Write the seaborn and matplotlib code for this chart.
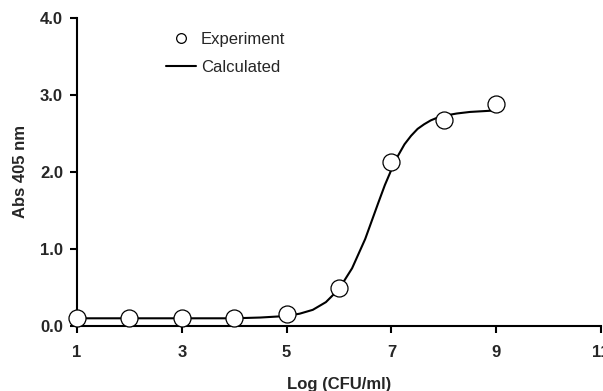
import matplotlib
matplotlib.use("Agg")
import matplotlib.pyplot as plt
import seaborn as sns
import pandas as pd
from matplotlib.lines import Line2D

# Experimental data
exp_x = [1, 2, 3, 4, 5, 6, 7, 8, 9]
exp_y = [0.10, 0.10, 0.10, 0.10, 0.15, 0.50, 2.13, 2.67, 2.88]

# Calculated curve, values
calc_x = [1, 2, 3, 4, 4.5, 5, 5.25, 5.5, 5.75, 6, 6.25, 6.5, 6.75, 6.875, 7,
          7.125, 7.25, 7.375, 7.5, 7.625, 7.75, 7.875, 8, 8.25, 8.5, 8.75, 9]
calc_y = [0.10, 0.10, 0.10, 0.10, 0.11, 0.13, 0.16, 0.21, 0.31, 0.48, 0.75, 1.13,
          1.60, 1.83, 2.03, 2.21, 2.36, 2.47, 2.56, 2.62, 2.67, 2.705, 2.73,
          2.76, 2.78, 2.79, 2.80]

x_ticks = [1, 3, 5, 7, 9, 11]
y_ticks = [0.0, 1.0, 2.0, 3.0, 4.0]
y_tick_labels = ["0.0", "1.0", "2.0", "3.0", "4.0"]

sns.set_style("ticks")
plt.rcParams['font.family'] = ['Liberation Sans', 'DejaVu Sans']

fig = plt.figure(figsize=(6.03, 3.91), dpi=100)
ax = fig.add_axes([77/603, 1 - 326/391, 524/603, (326 - 18)/391])

df_exp = pd.DataFrame({"x": exp_x, "y": exp_y})
df_calc = pd.DataFrame({"x": calc_x, "y": calc_y})

sns.lineplot(data=df_calc, x="x", y="y", ax=ax, color="black", linewidth=1.5,
             zorder=2, estimator=None, sort=True)
sns.scatterplot(data=df_exp, x="x", y="y", ax=ax, s=150, facecolor="white",
                edgecolor="black", linewidth=0.9, zorder=3, clip_on=False)

ax.set_xlim(1, 11)
ax.set_ylim(0, 4)
ax.set_xticks(x_ticks)
ax.set_xticklabels([str(t) for t in x_ticks], fontsize=12, fontweight="bold")
ax.set_yticks(y_ticks)
ax.set_yticklabels(y_tick_labels, fontsize=12, fontweight="bold")
ax.tick_params(axis="both", direction="out", length=5, width=1.5, color="black")
ax.tick_params(axis="x", pad=9)
ax.tick_params(axis="y", pad=5)

for side in ["top", "right"]:
    ax.spines[side].set_visible(False)
for side in ["left", "bottom"]:
    ax.spines[side].set_linewidth(1.5)
    ax.spines[side].set_color("black")

ax.set_xlabel("Log (CFU/ml)", fontsize=12, fontweight="bold", labelpad=12)
ax.set_ylabel("Abs 405 nm", fontsize=12, fontweight="bold", labelpad=9)

handles = [
    Line2D([], [], linestyle="none", marker="o", markersize=7,
           markerfacecolor="white", markeredgecolor="black", markeredgewidth=0.9),
    Line2D([], [], color="black", linewidth=1.5),
]
ax.legend(handles, ["Experiment", "Calculated"], loc="upper left",
          bbox_to_anchor=(166/603, 1 - 32/391), bbox_transform=fig.transFigure,
          frameon=False, fontsize=12, handlelength=1.8, handletextpad=0.3,
          labelspacing=0.75, borderpad=0, borderaxespad=0)

fig.savefig("out.png", dpi=100)
